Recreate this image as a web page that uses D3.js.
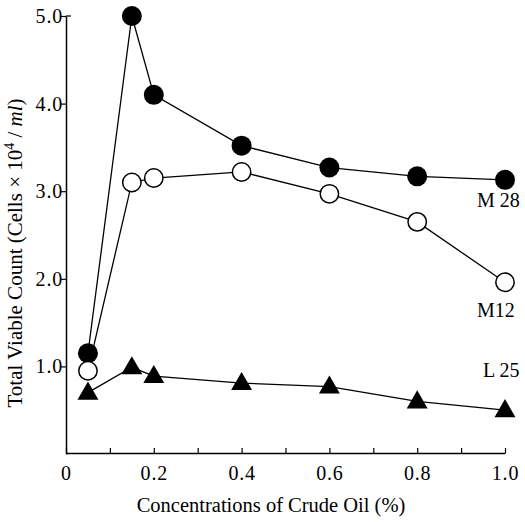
<!DOCTYPE html>
<html>
<head>
<meta charset="utf-8">
<script src="https://cdn.jsdelivr.net/npm/d3@7"></script>
<style>
  body { margin: 0; background: #fff; }
  svg text { font-family: "Liberation Serif", "Times New Roman", serif; fill: #000; }
</style>
</head>
<body>
<svg id="chart" width="525" height="522"></svg>
<script>
// data
const concentrations = [0.05, 0.15, 0.2, 0.4, 0.6, 0.8, 1.0];
const m28 = [1.15, 5.0, 4.1, 3.52, 3.27, 3.17, 3.13];
const m12 = [0.95, 3.1, 3.15, 3.22, 2.97, 2.65, 1.96];
const l25 = [0.7, 0.99, 0.89, 0.81, 0.77, 0.6, 0.5];
const xTickValues = [0, 0.2, 0.4, 0.6, 0.8, 1.0];
const yTickValues = [1, 2, 3, 4, 5];

const margin = {top: 16, right: 20, bottom: 68, left: 66};

const svg = d3.select('#chart');

const xScale = d3.scaleLinear().domain([0, 1]).range([margin.left, 505]);
const yScale = d3.scaleLinear().domain([0, 5]).range([454, margin.top]);

// axes
const xAxis = d3.axisBottom(xScale)
    .tickValues(d3.range(0, 1.01, 0.1))
    .tickSizeInner(-5)
    .tickSizeOuter(0)
    .tickFormat(d => xTickValues.some(v => Math.abs(v - d) < 1e-6) ? (d === 0 ? '0' : d3.format('.1f')(d)) : '');

const yAxis = d3.axisLeft(yScale)
    .tickValues(yTickValues)
    .tickSize(5)
    .tickSizeOuter(0)
    .tickFormat(d3.format('.1f'));

const xAxisG = svg.append('g')
    .attr('transform', `translate(0,${yScale(0) - 1})`)
    .call(xAxis);
xAxisG.select('.domain').attr('stroke-width', 1.5);
xAxisG.selectAll('.tick line').attr('stroke-width', 1.2);
xAxisG.selectAll('.tick text')
    .attr('y', 13)
    .attr('font-size', 20)
    .attr('letter-spacing', 0.8);

const yAxisG = svg.append('g')
    .attr('transform', `translate(${margin.left},0)`)
    .call(yAxis);
yAxisG.select('.domain').attr('stroke-width', 1.5);
yAxisG.selectAll('.tick line').attr('stroke-width', 1.2);
yAxisG.selectAll('.tick text')
    .attr('x', -3)
    .attr('font-size', 20)
    .attr('letter-spacing', 0.8);
// small cap at top of y axis
yAxisG.append('line')
    .attr('x1', 0).attr('x2', 5)
    .attr('y1', yScale(5)).attr('y2', yScale(5))
    .attr('stroke', '#000').attr('stroke-width', 1.2);

// axis titles
svg.append('text')
    .attr('x', 271)
    .attr('y', 512)
    .attr('text-anchor', 'middle')
    .attr('font-size', 20.5)
    .text('Concentrations of Crude Oil (%)');

const yTitle = svg.append('text')
    .attr('transform', 'translate(22,253) rotate(-90)')
    .attr('text-anchor', 'middle')
    .attr('font-size', 21);
yTitle.append('tspan').text('Total Viable Count (Cells × 10');
yTitle.append('tspan').attr('font-size', 14).attr('dy', -8).text('4');
yTitle.append('tspan').attr('dy', 8).text(' / ');
yTitle.append('tspan').attr('font-style', 'italic').text('ml');
yTitle.append('tspan').text(')');

// series
const series = [
  {name: 'M 28', values: m28, marker: 'filled'},
  {name: 'M12', values: m12, marker: 'open'},
  {name: 'L 25', values: l25, marker: 'triangle'}
];

const line = d3.line()
    .x(d => xScale(d.x))
    .y(d => yScale(d.y));

series.forEach(s => {
  const pts = concentrations.map((x, i) => ({x: x, y: s.values[i]}));
  s.pts = pts;
  svg.append('path')
      .datum(pts)
      .attr('d', line)
      .attr('fill', 'none')
      .attr('stroke', '#000')
      .attr('stroke-width', 1.3);
});

const triangle = d3.symbol().type(d3.symbolTriangle).size(190);

series.forEach(s => {
  const g = svg.append('g');
  if (s.marker === 'triangle') {
    g.selectAll('path')
        .data(s.pts)
      .join('path')
        .attr('d', triangle)
        .attr('transform', d => `translate(${xScale(d.x)},${yScale(d.y) + 1})`)
        .attr('fill', '#000');
  } else {
    g.selectAll('circle')
        .data(s.pts)
      .join('circle')
        .attr('cx', d => xScale(d.x))
        .attr('cy', d => yScale(d.y))
        .attr('r', s.marker === 'filled' ? 10 : 9.2)
        .attr('fill', s.marker === 'filled' ? '#000' : '#fff')
        .attr('stroke', '#000')
        .attr('stroke-width', s.marker === 'filled' ? 0 : 1.5);
  }
});

// series labels
const labels = [
  {text: 'M 28', x: 477, y: 207},
  {text: 'M12', x: 477, y: 317},
  {text: 'L 25', x: 483, y: 377}
];
svg.selectAll('.series-label')
    .data(labels)
  .join('text')
    .attr('class', 'series-label')
    .attr('x', d => d.x)
    .attr('y', d => d.y)
    .attr('font-size', 20)
    .text(d => d.text);
</script>
</body>
</html>
